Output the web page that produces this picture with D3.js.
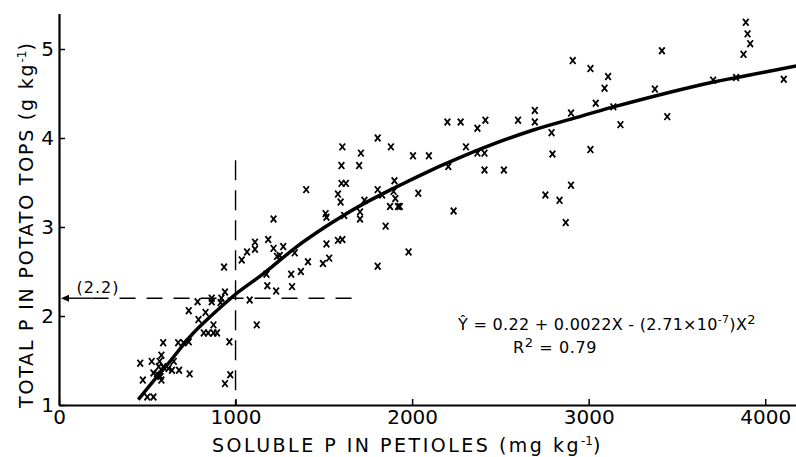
<!DOCTYPE html>
<html lang="en">
<head>
<meta charset="utf-8">
<title>Total P vs soluble P</title>
<style>
  body { margin: 0; background: #fff; }
  text { font-family: "DejaVu Sans", sans-serif; fill: #000; }
  .axis path, .axis line { stroke: #000; }
</style>
<script src="https://cdn.jsdelivr.net/npm/d3@7/dist/d3.min.js"></script>
</head>
<body>
<svg width="796" height="457"></svg>
<script>
// observed points: soluble P in petioles (mg/kg) and total P in tops (g/kg)
var solubleP = [3890, 3900, 3915, 3877, 3415, 2910, 3010, 3110, 3090, 3040, 3140, 3375, 3705, 3835, 4105, 3180, 3445, 3010,
  2200, 2275, 2370, 2415, 2600, 2695, 2695, 2900, 2005, 2095, 2305, 2205, 2370, 2410, 2790, 2795, 2410, 2520,
  2035, 1930, 2235, 2900, 2755, 2835, 2870,
  1805, 1880, 1605, 1710, 1600, 1700, 1600, 1625, 1400, 1580, 1595, 1900, 1805, 1830, 1895, 1905, 1875, 1920,
  1730, 1705, 1705, 1615, 1510, 1515, 1850, 1215, 1185, 1110, 1110, 1065, 1035, 1215, 1270, 1235, 1250, 1335,
  1515, 1580, 1605, 1410, 1495, 1530, 1370, 1315, 1175, 1180, 1230, 1320, 1805, 1980,
  935, 1080, 940, 865, 865, 920, 915, 785, 735, 830, 790, 875, 820, 845, 875, 895, 965, 1120,
  590, 675, 705, 735, 580, 460, 525, 570, 650, 565, 590, 620, 640, 680, 740, 535, 555, 575, 580, 475,
  970, 940, 500, 535];
var totalP = [5.30, 5.17, 5.06, 4.94, 4.98, 4.87, 4.78, 4.69, 4.56, 4.39, 4.35, 4.55, 4.65, 4.68, 4.66, 4.15, 4.24, 3.87,
  4.18, 4.18, 4.11, 4.20, 4.20, 4.31, 4.18, 4.28, 3.80, 3.80, 3.90, 3.68, 3.83, 3.83, 4.06, 3.82, 3.64, 3.64,
  3.38, 3.23, 3.18, 3.47, 3.36, 3.30, 3.05,
  4.00, 3.90, 3.90, 3.83, 3.69, 3.69, 3.49, 3.49, 3.42, 3.37, 3.28, 3.52, 3.42, 3.36, 3.40, 3.32, 3.23, 3.23,
  3.30, 3.17, 3.09, 3.13, 3.15, 3.11, 3.01, 3.09, 2.86, 2.83, 2.75, 2.72, 2.63, 2.76, 2.78, 2.67, 2.68, 2.71,
  2.81, 2.85, 2.86, 2.61, 2.59, 2.65, 2.50, 2.47, 2.47, 2.34, 2.28, 2.33, 2.56, 2.72,
  2.55, 2.18, 2.27, 2.20, 2.16, 2.20, 2.15, 2.16, 2.06, 2.04, 1.96, 1.90, 1.81, 1.81, 1.81, 1.81, 1.71, 1.90,
  1.70, 1.70, 1.70, 1.71, 1.56, 1.47, 1.49, 1.49, 1.49, 1.43, 1.43, 1.41, 1.39, 1.39, 1.35, 1.36, 1.35, 1.32, 1.28, 1.28,
  1.34, 1.24, 1.09, 1.09];

// fitted curve as drawn
var fitX = [449, 531, 629, 752, 950, 1003, 1167, 1347, 1507, 1611, 1724, 1830, 1932, 2177, 2404, 2687, 2914, 3141, 3707, 3840, 4176];
var fitY = [1.06, 1.26, 1.49, 1.79, 2.16, 2.25, 2.49, 2.78, 3.00, 3.13, 3.26, 3.37, 3.47, 3.70, 3.89, 4.09, 4.22, 4.35, 4.63, 4.68, 4.81];

var xTicks = [0, 1000, 2000, 3000, 4000];
var yTicks = [1, 2, 3, 4, 5];

// dashed reference lines
var refX = 1000, refXTop = 3.75;
var refY = 2.2, refYEnd = 1670, arrowEnd = 190;

var svg = d3.select("svg");
var x = d3.scaleLinear().domain([0, 4180]).range([59, 797]);
var y = d3.scaleLinear().domain([1, 5.4]).range([405, 13.4]);

// axes
svg.append("g")
   .attr("class", "axis")
   .attr("transform", "translate(0,405)")
   .call(d3.axisBottom(x).tickValues(xTicks).tickFormat(d3.format("d")).tickSizeInner(-6).tickSizeOuter(0).tickPadding(5))
   .call(function(g) { g.select(".domain").attr("stroke-width", 2.2); });

svg.append("g")
   .attr("class", "axis")
   .attr("transform", "translate(59,0)")
   .call(d3.axisLeft(y).tickValues(yTicks).tickFormat(d3.format("d")).tickSizeInner(-6).tickSizeOuter(0).tickPadding(5))
   .call(function(g) { g.select(".domain").attr("stroke-width", 2.2); });

svg.selectAll(".axis .tick line").attr("stroke-width", 1.5);
svg.selectAll(".axis .tick text")
   .attr("font-size", 20)
   .attr("font-family", "DejaVu Sans");

// reference lines
svg.append("line")
   .attr("x1", x(refX)).attr("x2", x(refX))
   .attr("y1", y(refXTop)).attr("y2", y(1))
   .attr("stroke", "#000").attr("stroke-width", 1.4)
   .attr("stroke-dasharray", "20,10");

svg.append("line")
   .attr("x1", x(arrowEnd)).attr("x2", x(refYEnd))
   .attr("y1", y(refY)).attr("y2", y(refY))
   .attr("stroke", "#000").attr("stroke-width", 1.4)
   .attr("stroke-dasharray", "16,11");

svg.append("line")
   .attr("x1", x(0) + 6).attr("x2", x(arrowEnd))
   .attr("y1", y(refY)).attr("y2", y(refY))
   .attr("stroke", "#000").attr("stroke-width", 1.4);

svg.append("path")
   .attr("transform", "translate(" + (x(0) + 2) + "," + y(refY) + ")")
   .attr("d", "M0,0 L8,-3.5 L8,3.5 Z")
   .attr("fill", "#000");

svg.append("text")
   .attr("x", x(arrowEnd) - 16)
   .attr("y", y(refY) - 5)
   .attr("font-size", 16)
   .attr("letter-spacing", 1)
   .text("(2.2)");

// fitted curve
var line = d3.line()
   .x(function(d, i) { return x(fitX[i]); })
   .y(function(d, i) { return y(fitY[i]); })
   .curve(d3.curveCatmullRom);

svg.append("path")
   .datum(fitX)
   .attr("d", line)
   .attr("fill", "none")
   .attr("stroke", "#000")
   .attr("stroke-width", 3.5);

// points as x marks
svg.append("g")
   .selectAll("path")
   .data(solubleP)
   .enter()
   .append("path")
   .attr("transform", function(d, i) { return "translate(" + x(d) + "," + y(totalP[i]) + ")"; })
   .attr("d", "M-2.8,-3.4 L2.8,3.4 M2.8,-3.4 L-2.8,3.4")
   .attr("stroke", "#000")
   .attr("stroke-width", 1.8)
   .attr("fill", "none");

// equation
var eq = svg.append("text")
   .attr("x", 458).attr("y", 330)
   .attr("font-size", 16)
   .attr("letter-spacing", 0.3);
eq.append("tspan").text("Ŷ = 0.22 + 0.0022X - (2.71×10");
eq.append("tspan").attr("dy", -7).attr("font-size", 11).text("-7");
eq.append("tspan").attr("dy", 7).text(")X");
eq.append("tspan").attr("dy", -6).attr("font-size", 13).text("2");

var r2 = svg.append("text")
   .attr("x", 513).attr("y", 353)
   .attr("font-size", 16)
   .attr("letter-spacing", 0.6);
r2.append("tspan").text("R");
r2.append("tspan").attr("dy", -6).attr("font-size", 13).text("2");
r2.append("tspan").attr("dy", 6).text(" = 0.79");

// axis titles
var xt = svg.append("text")
   .attr("x", 212).attr("y", 452)
   .attr("font-size", 19)
   .attr("letter-spacing", 2.5);
xt.append("tspan").text("SOLUBLE P IN PETIOLES (mg kg");
xt.append("tspan").attr("dy", -7).attr("font-size", 12).attr("letter-spacing", 0).text("-1");
xt.append("tspan").attr("dy", 7).text(")");

var yt = svg.append("text")
   .attr("transform", "translate(33,408) rotate(-90)")
   .attr("font-size", 19)
   .attr("letter-spacing", 1.8);
yt.append("tspan").text("TOTAL P IN POTATO TOPS (g kg");
yt.append("tspan").attr("dy", -7).attr("font-size", 12).attr("letter-spacing", 0).text("-1");
yt.append("tspan").attr("dy", 7).text(")");
</script>
</body>
</html>
